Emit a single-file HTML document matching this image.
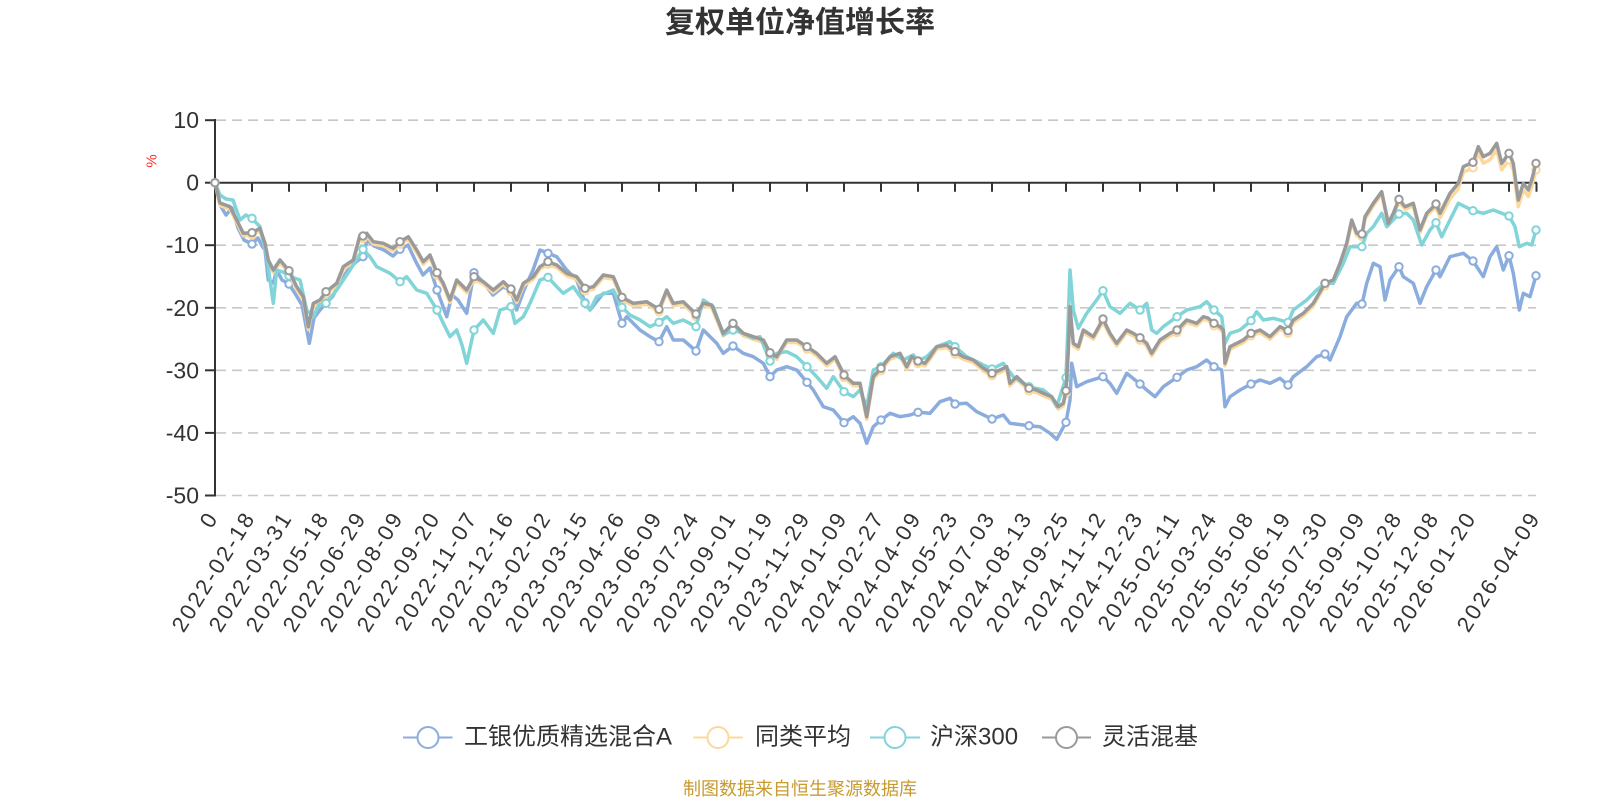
<!DOCTYPE html>
<html>
<head>
<meta charset="utf-8">
<style>
html,body{margin:0;padding:0;background:#fff;}
body{width:1600px;height:800px;overflow:hidden;}
svg{display:block;}
text{font-family:"Liberation Sans","Noto Sans CJK SC",sans-serif;}
</style>
</head>
<body>
<svg width="1600" height="800" viewBox="0 0 1600 800" xmlns="http://www.w3.org/2000/svg">
<rect width="1600" height="800" fill="#fff"/>
<!-- title -->
<text x="800" y="23" text-anchor="middle" dominant-baseline="central" font-size="30" font-weight="bold" fill="#333">复权单位净值增长率</text>

<!-- grid lines -->
<g stroke="#c8c8c8" stroke-width="1.6" stroke-dasharray="10 6" fill="none">
<line x1="216" y1="120.2" x2="1536" y2="120.2"/>
<line x1="216" y1="245.2" x2="1536" y2="245.2"/>
<line x1="216" y1="307.8" x2="1536" y2="307.8"/>
<line x1="216" y1="370.3" x2="1536" y2="370.3"/>
<line x1="216" y1="432.9" x2="1536" y2="432.9"/>
<line x1="216" y1="495.5" x2="1536" y2="495.5"/>
</g>

<!-- y axis -->
<g stroke="#333" stroke-width="2" fill="none">
<line x1="215" y1="119" x2="215" y2="496.5"/>
<line x1="205" y1="120.2" x2="215" y2="120.2"/>
<line x1="205" y1="182.7" x2="215" y2="182.7"/>
<line x1="205" y1="245.2" x2="215" y2="245.2"/>
<line x1="205" y1="307.8" x2="215" y2="307.8"/>
<line x1="205" y1="370.3" x2="215" y2="370.3"/>
<line x1="205" y1="432.9" x2="215" y2="432.9"/>
<line x1="205" y1="495.5" x2="215" y2="495.5"/>
</g>
<g font-size="23" fill="#333" text-anchor="end" dominant-baseline="central">
<text x="199" y="120.2">10</text>
<text x="199" y="182.7">0</text>
<text x="199" y="245.2">-10</text>
<text x="199" y="307.8">-20</text>
<text x="199" y="370.3">-30</text>
<text x="199" y="432.9">-40</text>
<text x="199" y="495.5">-50</text>
</g>
<text transform="translate(152,161) rotate(-90)" text-anchor="middle" dominant-baseline="central" font-size="15" fill="#ff2a2a">%</text>

<!-- x axis -->
<g stroke="#333" stroke-width="2" fill="none">
<line x1="215" y1="182.7" x2="1537" y2="182.7"/>
<path d="M252 182.7v9M289 182.7v9M326 182.7v9M363 182.7v9M400 182.7v9M437 182.7v9M474 182.7v9M511 182.7v9M548 182.7v9M585 182.7v9M622 182.7v9M659 182.7v9M696 182.7v9M733 182.7v9M770 182.7v9M807 182.7v9M844 182.7v9M881 182.7v9M918 182.7v9M955 182.7v9M992 182.7v9M1029 182.7v9M1066 182.7v9M1103 182.7v9M1140 182.7v9M1177 182.7v9M1214 182.7v9M1251 182.7v9M1288 182.7v9M1325 182.7v9M1362 182.7v9M1399 182.7v9M1436 182.7v9M1473 182.7v9M1509 182.7v9M1536.5 182.7v9"/>
</g>

<!-- x labels -->
<g font-size="22" fill="#333" text-anchor="end" dominant-baseline="central" letter-spacing="2.5">
<text transform="translate(213,513) rotate(-58)">0</text>
<text transform="translate(250,513) rotate(-58)">2022-02-18</text>
<text transform="translate(287,513) rotate(-58)">2022-03-31</text>
<text transform="translate(324,513) rotate(-58)">2022-05-18</text>
<text transform="translate(361,513) rotate(-58)">2022-06-29</text>
<text transform="translate(398,513) rotate(-58)">2022-08-09</text>
<text transform="translate(435,513) rotate(-58)">2022-09-20</text>
<text transform="translate(472,513) rotate(-58)">2022-11-07</text>
<text transform="translate(509,513) rotate(-58)">2022-12-16</text>
<text transform="translate(546,513) rotate(-58)">2023-02-02</text>
<text transform="translate(583,513) rotate(-58)">2023-03-15</text>
<text transform="translate(620,513) rotate(-58)">2023-04-26</text>
<text transform="translate(657,513) rotate(-58)">2023-06-09</text>
<text transform="translate(694,513) rotate(-58)">2023-07-24</text>
<text transform="translate(731,513) rotate(-58)">2023-09-01</text>
<text transform="translate(768,513) rotate(-58)">2023-10-19</text>
<text transform="translate(805,513) rotate(-58)">2023-11-29</text>
<text transform="translate(842,513) rotate(-58)">2024-01-09</text>
<text transform="translate(879,513) rotate(-58)">2024-02-27</text>
<text transform="translate(916,513) rotate(-58)">2024-04-09</text>
<text transform="translate(953,513) rotate(-58)">2024-05-23</text>
<text transform="translate(990,513) rotate(-58)">2024-07-03</text>
<text transform="translate(1027,513) rotate(-58)">2024-08-13</text>
<text transform="translate(1064,513) rotate(-58)">2024-09-25</text>
<text transform="translate(1101,513) rotate(-58)">2024-11-12</text>
<text transform="translate(1138,513) rotate(-58)">2024-12-23</text>
<text transform="translate(1175,513) rotate(-58)">2025-02-11</text>
<text transform="translate(1212,513) rotate(-58)">2025-03-24</text>
<text transform="translate(1249,513) rotate(-58)">2025-05-08</text>
<text transform="translate(1286,513) rotate(-58)">2025-06-19</text>
<text transform="translate(1323,513) rotate(-58)">2025-07-30</text>
<text transform="translate(1360,513) rotate(-58)">2025-09-09</text>
<text transform="translate(1397,513) rotate(-58)">2025-10-28</text>
<text transform="translate(1434,513) rotate(-58)">2025-12-08</text>
<text transform="translate(1471,513) rotate(-58)">2026-01-20</text>
<text transform="translate(1535,513) rotate(-58)">2026-04-09</text>
</g>

<!-- BLUE series -->
<polyline fill="none" stroke="#8badde" stroke-width="3.5" stroke-linejoin="round" points="215,182.7 220,205 226,215 232,208 238,228 244,240 252,244 258,238 262,246 265,250 268.3,280 273.3,283 276.7,270 282,280 289,284 296,295 302,305 309.3,343.3 314,318 320,310 326,303.3 333,296 340,282 348,270 356,262 363,256.7 367,240 374,246 384,250 393,256 400,249.3 408,245 416,262 423,275 430,268 437,290 446.7,316.7 452,295 458,300 466.7,313.3 474,272.7 483,282 493,295 503,287 511,290 516.7,310 524,290 533,270 540,250 548,253.3 556.7,256.7 566.7,270 576.7,280 585,302.7 590,310 603.3,293.3 613.3,293.3 622,323.3 626.7,316.7 640,330 650,336.7 659,341.7 666.7,326.7 673.3,340 683.3,340 696,351 703.3,330 716.7,343.3 723.3,353.3 733,346 743.3,353.3 753.3,356.7 763.3,363.3 770,376.7 776.7,370 786.7,366.7 796.7,370 807,382.3 813.3,390 823.3,406.7 833.3,410 844,422.7 853.3,416.7 860,423.3 866.7,443.3 873.3,426.7 881,420 890,413.3 900,416.7 910,415 918,412.3 930,413.3 940,401.7 950,398.3 955,404 966.7,403.3 976.7,411.7 992,419 1003.3,415 1010,423.3 1029,425.7 1040,426.7 1050,433.3 1056.7,439.3 1066,422.3 1070,400 1071.7,363.3 1076.7,386.7 1086.7,381.7 1103,376.7 1110,383.3 1116.7,393.3 1126.7,373.3 1140,384 1146.7,390 1155,396.7 1163.3,386.7 1177,377.3 1186.7,370 1196.7,366.7 1206.7,360 1214,366.7 1221.7,370 1225,406.7 1230,396.7 1240,390 1251,384 1260,380 1270,383.3 1280,378.3 1288,385 1293.3,376.7 1306.7,366.7 1316.7,356.7 1325,354 1330,360 1340,336.7 1346.7,316.7 1356.7,303.3 1362,304 1366.7,283.3 1373.3,263.3 1380,266.7 1385,300 1390,280 1399,266.7 1403.3,276.7 1413.3,283.3 1420,303.3 1426.7,286.7 1436,270 1440,276.7 1450,256.7 1463.3,253.3 1473,261 1483.3,276.7 1490,256.7 1496.7,246.7 1503.3,270 1509,255.7 1513.3,273.3 1519.3,310 1523.3,293.3 1530,296.7 1536,275.7"/>
<g fill="#fff" stroke="#8badde" stroke-width="2">
<circle cx="215" cy="182.7" r="3.7"/><circle cx="252" cy="244" r="3.7"/><circle cx="289" cy="284" r="3.7"/><circle cx="326" cy="303.3" r="3.7"/><circle cx="363" cy="256.7" r="3.7"/><circle cx="400" cy="249.3" r="3.7"/><circle cx="437" cy="290" r="3.7"/><circle cx="474" cy="272.7" r="3.7"/><circle cx="511" cy="290" r="3.7"/><circle cx="548" cy="253.3" r="3.7"/><circle cx="585" cy="302.7" r="3.7"/><circle cx="622" cy="323.3" r="3.7"/><circle cx="659" cy="341.7" r="3.7"/><circle cx="696" cy="351" r="3.7"/><circle cx="733" cy="346" r="3.7"/><circle cx="770" cy="376.7" r="3.7"/><circle cx="807" cy="382.3" r="3.7"/><circle cx="844" cy="422.7" r="3.7"/><circle cx="881" cy="420" r="3.7"/><circle cx="918" cy="412.3" r="3.7"/><circle cx="955" cy="404" r="3.7"/><circle cx="992" cy="419" r="3.7"/><circle cx="1029" cy="425.7" r="3.7"/><circle cx="1066" cy="422.3" r="3.7"/><circle cx="1103" cy="376.7" r="3.7"/><circle cx="1140" cy="384" r="3.7"/><circle cx="1177" cy="377.3" r="3.7"/><circle cx="1214" cy="366.7" r="3.7"/><circle cx="1251" cy="384" r="3.7"/><circle cx="1288" cy="385" r="3.7"/><circle cx="1325" cy="354" r="3.7"/><circle cx="1362" cy="304" r="3.7"/><circle cx="1399" cy="266.7" r="3.7"/><circle cx="1436" cy="270" r="3.7"/><circle cx="1473" cy="261" r="3.7"/><circle cx="1509" cy="255.7" r="3.7"/><circle cx="1536" cy="275.7" r="3.7"/>
</g>

<!-- YELLOW series (同类平均) -->
<g transform="translate(0,2.5)">
<polyline fill="none" stroke="#fdd89a" stroke-width="3.5" stroke-linejoin="round" points="215,180.2 220,203 230,206.7 236.7,220 243.3,233.3 252,232.7 260,228.3 265,243.3 268.3,260 273.3,270 280,260 289,270.7 296.7,286.7 303.3,296.7 308.3,326.7 313.3,303.3 320,300 326,291.7 336.7,283.3 343.3,266.7 353.3,260 360,235 366.7,233.3 373.3,241.7 383.3,243.3 393.3,248.3 400,241.7 408.3,236.7 416.7,250 423.3,261.7 430,255 437,272.7 443.3,283.3 450,300 456.7,280 466.7,290 474,276.7 483.3,281.7 493.3,290 503.3,281.7 511,289 516.7,300 523.3,283.3 533.3,276.7 540,266.7 548,261.7 556.7,265 566.7,273.3 576.7,276.7 585,288.3 593.3,286.7 603.3,275 613.3,276.7 618.3,288.3 622,297.3 633.3,303.3 646.7,301.7 659,309.3 666.7,290 673.3,303.3 683.3,301.7 696,314 703.3,303.3 711.7,305 723.3,333.3 733,323.3 743.3,333.3 753.3,336.7 763.3,340 770,352.7 776.7,356.7 786.7,340 796.7,340 807,346.7 816.7,353.3 826.7,363.3 835,356.7 840,366.7 844,375 853.3,383.3 860,383.3 866.7,416.7 873.3,376.7 881,368.3 890,356.7 900,353.3 906.7,366.7 911.7,356.7 918,361 925,363.3 930,356.7 936.7,346.7 946.7,345 955,351.7 963.3,356.7 973.3,360 983.3,368.3 992,373.3 1000,370 1006.7,366.7 1010,383.3 1016.7,376.7 1029,388.3 1036.7,390 1043.3,393.3 1051.7,396.7 1058.3,406.7 1063.3,403.3 1066,390.7 1068.3,350 1070,306.7 1073.3,343.3 1078.3,346.7 1083.3,330 1093.3,336.7 1103,319 1110,333.3 1116.7,343.3 1126.7,330 1133.3,333.3 1140,337.7 1146.7,343.3 1151.7,353.3 1160,340 1170,333.3 1177,330 1186.7,320 1196.7,323.3 1203.3,316.7 1208,318 1214,323.3 1220,326.7 1223.3,330 1225,363.3 1230,346.7 1236.7,343.3 1243.3,340 1251,333.3 1260,330 1270,336.7 1280,326.7 1288,330.7 1293.3,320 1303.3,313.3 1313.3,303.3 1325,283.3 1333.3,280 1340,263.3 1346.7,243.3 1351.7,220 1356.7,233.3 1362,234 1365,216.7 1373.3,203.3 1381.7,191.7 1388.3,223.3 1393.3,213.3 1399,199.3 1405,206.7 1413.3,203.3 1420,230 1426.7,213.3 1436,204 1440,215.3 1450,196.3 1458.3,186.3 1463.3,169.7 1473,165.3 1478.3,150.7 1483.3,160.7 1490,157.3 1496.7,147.3 1501.7,167.3 1509,157.3 1513.3,167.3 1518.3,204 1523.3,187.3 1528.3,194 1531.7,184 1536,167.3"/>
<g fill="#fff" stroke="#fdd89a" stroke-width="2">
<circle cx="215" cy="180.2" r="3.7"/><circle cx="252" cy="232.7" r="3.7"/><circle cx="289" cy="270.7" r="3.7"/><circle cx="326" cy="291.7" r="3.7"/><circle cx="363" cy="236" r="3.7"/><circle cx="400" cy="241.7" r="3.7"/><circle cx="437" cy="272.7" r="3.7"/><circle cx="474" cy="276.7" r="3.7"/><circle cx="511" cy="289" r="3.7"/><circle cx="548" cy="261.7" r="3.7"/><circle cx="585" cy="288.3" r="3.7"/><circle cx="622" cy="297.3" r="3.7"/><circle cx="659" cy="309.3" r="3.7"/><circle cx="696" cy="314" r="3.7"/><circle cx="733" cy="323.3" r="3.7"/><circle cx="770" cy="352.7" r="3.7"/><circle cx="807" cy="346.7" r="3.7"/><circle cx="844" cy="375" r="3.7"/><circle cx="881" cy="368.3" r="3.7"/><circle cx="918" cy="361" r="3.7"/><circle cx="955" cy="351.7" r="3.7"/><circle cx="992" cy="373.3" r="3.7"/><circle cx="1029" cy="388.3" r="3.7"/><circle cx="1066" cy="390.7" r="3.7"/><circle cx="1103" cy="319" r="3.7"/><circle cx="1140" cy="337.7" r="3.7"/><circle cx="1177" cy="330" r="3.7"/><circle cx="1214" cy="323.3" r="3.7"/><circle cx="1251" cy="333.3" r="3.7"/><circle cx="1288" cy="330.7" r="3.7"/><circle cx="1325" cy="283.3" r="3.7"/><circle cx="1362" cy="234" r="3.7"/><circle cx="1399" cy="199.3" r="3.7"/><circle cx="1436" cy="204" r="3.7"/><circle cx="1473" cy="165.3" r="3.7"/><circle cx="1509" cy="157.3" r="3.7"/><circle cx="1536" cy="167.3" r="3.7"/>
</g>
</g>

<!-- CYAN series (沪深300) -->
<polyline fill="none" stroke="#81d4d7" stroke-width="3.5" stroke-linejoin="round" points="215,182.7 220,195 226,199 233,200 240,220 246,215 252,218.3 260,226.7 266.7,256.7 273.3,303.3 276.7,270 283,272 289,276 300,280 306.7,310 313.3,316.7 319,305 326,303.3 336.7,290 350,270 363,249.3 370,256.7 376.7,266.7 390,273.3 400,281.7 406.7,276.7 416.7,290 426.7,293.3 437,310 443.3,323.3 450,336.7 456.7,330 462,345 466.7,363.3 474,330 483.3,320 493.3,333.3 500,310 511,306.7 515,323.3 523.3,316.7 530,303.3 540,280 548,277.3 556.7,286.7 563.3,293.3 573.3,286.7 585,303.3 590,310 596.7,296.7 613.3,290 622,307.3 630,315 640,320 650,326.7 659,322.3 666.7,316.7 673.3,323.3 683.3,320 696,326.7 703.3,300 713.3,306.7 723.3,335 733,330 743.3,333.3 753.3,338.3 760,336.7 770,361 776.7,353.3 786.7,351.7 796.7,356.7 807,366.7 816.7,376.7 826.7,388.3 833.3,376.7 844,391.7 853.3,396.7 860,390 866.7,406.7 873.3,370 881,366.7 893.3,353.3 903.3,360 913.3,355 918,361 926.7,356.7 936.7,346.7 950,341.7 955,346.7 966.7,356.7 983.3,365 992,369 1003.3,363.3 1013.3,376.7 1029,386.7 1043.3,390 1051.7,396.7 1056.7,406.7 1066,377.7 1070,270 1073.3,310 1078.3,328.3 1086.7,313.3 1096.7,300 1103,290.7 1110,306.7 1120,313.3 1130,303.3 1140,310 1146.7,303.3 1151.7,330 1156.7,333.3 1163.3,326.7 1177,316.7 1186.7,310 1200,306.7 1206.7,301.7 1214,310 1221.7,316.7 1225,343.3 1230,333.3 1240,330 1251,320.7 1256.7,311.7 1263.3,320 1273.3,318.3 1288,322.3 1293.3,310 1306.7,300 1316.7,290 1325,283.3 1333.3,283.3 1343.3,263.3 1350,246.7 1362,246.7 1366.7,233.3 1373.3,226.7 1381.7,213.3 1386.7,226.7 1399,214 1406.7,213.3 1413.3,220 1421.7,245 1430,230 1436,222.7 1441.7,236.7 1450,220 1458.3,203.3 1473,210.7 1483.3,213.3 1493.3,210 1509,216 1515,226.7 1519.3,246.7 1526.7,243.3 1531.7,245 1536,230"/>
<g fill="#fff" stroke="#81d4d7" stroke-width="2">
<circle cx="215" cy="182.7" r="3.7"/><circle cx="252" cy="218.3" r="3.7"/><circle cx="289" cy="276" r="3.7"/><circle cx="326" cy="303.3" r="3.7"/><circle cx="363" cy="249.3" r="3.7"/><circle cx="400" cy="281.7" r="3.7"/><circle cx="437" cy="310" r="3.7"/><circle cx="474" cy="330" r="3.7"/><circle cx="511" cy="306.7" r="3.7"/><circle cx="548" cy="277.3" r="3.7"/><circle cx="585" cy="303.3" r="3.7"/><circle cx="622" cy="307.3" r="3.7"/><circle cx="659" cy="322.3" r="3.7"/><circle cx="696" cy="326.7" r="3.7"/><circle cx="733" cy="330" r="3.7"/><circle cx="770" cy="361" r="3.7"/><circle cx="807" cy="366.7" r="3.7"/><circle cx="844" cy="391.7" r="3.7"/><circle cx="881" cy="366.7" r="3.7"/><circle cx="918" cy="361" r="3.7"/><circle cx="955" cy="346.7" r="3.7"/><circle cx="992" cy="369" r="3.7"/><circle cx="1029" cy="386.7" r="3.7"/><circle cx="1066" cy="377.7" r="3.7"/><circle cx="1103" cy="290.7" r="3.7"/><circle cx="1140" cy="310" r="3.7"/><circle cx="1177" cy="316.7" r="3.7"/><circle cx="1214" cy="310" r="3.7"/><circle cx="1251" cy="320.7" r="3.7"/><circle cx="1288" cy="322.3" r="3.7"/><circle cx="1325" cy="283.3" r="3.7"/><circle cx="1362" cy="246.7" r="3.7"/><circle cx="1399" cy="214" r="3.7"/><circle cx="1436" cy="222.7" r="3.7"/><circle cx="1473" cy="210.7" r="3.7"/><circle cx="1509" cy="216" r="3.7"/><circle cx="1536" cy="230" r="3.7"/>
</g>

<!-- GRAY series (灵活混基) -->
<polyline fill="none" stroke="#9a9a9a" stroke-width="3.5" stroke-linejoin="round" points="215,182.7 220,203 230,206.7 236.7,220 243.3,233.3 252,232.7 260,228.3 265,243.3 268.3,260 273.3,270 280,260 289,270.7 296.7,286.7 303.3,296.7 308.3,326.7 313.3,303.3 320,300 326,291.7 336.7,283.3 343.3,266.7 353.3,260 360,235 366.7,233.3 373.3,241.7 383.3,243.3 393.3,248.3 400,241.7 408.3,236.7 416.7,250 423.3,261.7 430,255 437,272.7 443.3,283.3 450,300 456.7,280 466.7,290 474,276.7 483.3,281.7 493.3,290 503.3,281.7 511,289 516.7,300 523.3,283.3 533.3,276.7 540,266.7 548,261.7 556.7,265 566.7,273.3 576.7,276.7 585,288.3 593.3,286.7 603.3,275 613.3,276.7 618.3,288.3 622,297.3 633.3,303.3 646.7,301.7 659,309.3 666.7,290 673.3,303.3 683.3,301.7 696,314 703.3,303.3 711.7,305 723.3,333.3 733,323.3 743.3,333.3 753.3,336.7 763.3,340 770,352.7 776.7,356.7 786.7,340 796.7,340 807,346.7 816.7,353.3 826.7,363.3 835,356.7 840,366.7 844,375 853.3,383.3 860,383.3 866.7,416.7 873.3,376.7 881,368.3 890,356.7 900,353.3 906.7,366.7 911.7,356.7 918,361 925,363.3 930,356.7 936.7,346.7 946.7,345 955,351.7 963.3,356.7 973.3,360 983.3,368.3 992,373.3 1000,370 1006.7,366.7 1010,383.3 1016.7,376.7 1029,388.3 1036.7,390 1043.3,393.3 1051.7,396.7 1058.3,406.7 1063.3,403.3 1066,390.7 1068.3,350 1070,306.7 1073.3,343.3 1078.3,346.7 1083.3,330 1093.3,336.7 1103,319 1110,333.3 1116.7,343.3 1126.7,330 1133.3,333.3 1140,337.7 1146.7,343.3 1151.7,353.3 1160,340 1170,333.3 1177,330 1186.7,320 1196.7,323.3 1203.3,316.7 1208,318 1214,323.3 1220,326.7 1223.3,330 1225,363.3 1230,346.7 1236.7,343.3 1243.3,340 1251,333.3 1260,330 1270,336.7 1280,326.7 1288,330.7 1293.3,320 1303.3,313.3 1313.3,303.3 1325,283.3 1333.3,280 1340,263.3 1346.7,243.3 1351.7,220 1356.7,233.3 1362,234 1365,216.7 1373.3,203.3 1381.7,191.7 1388.3,223.3 1393.3,213.3 1399,199.3 1405,206.7 1413.3,203.3 1420,230 1426.7,213.3 1436,204 1440,213.3 1450,193.3 1458.3,183.3 1463.3,166.7 1473,162.3 1478.3,146.7 1483.3,156.7 1490,153.3 1496.7,143.3 1501.7,163.3 1509,153.3 1513.3,163.3 1518.3,200 1523.3,183.3 1528.3,190 1531.7,180 1536,163.3"/>
<g fill="#fff" stroke="#9a9a9a" stroke-width="2">
<circle cx="215" cy="182.7" r="3.7"/><circle cx="252" cy="232.7" r="3.7"/><circle cx="289" cy="270.7" r="3.7"/><circle cx="326" cy="291.7" r="3.7"/><circle cx="363" cy="236" r="3.7"/><circle cx="400" cy="241.7" r="3.7"/><circle cx="437" cy="272.7" r="3.7"/><circle cx="474" cy="276.7" r="3.7"/><circle cx="511" cy="289" r="3.7"/><circle cx="548" cy="261.7" r="3.7"/><circle cx="585" cy="288.3" r="3.7"/><circle cx="622" cy="297.3" r="3.7"/><circle cx="659" cy="309.3" r="3.7"/><circle cx="696" cy="314" r="3.7"/><circle cx="733" cy="323.3" r="3.7"/><circle cx="770" cy="352.7" r="3.7"/><circle cx="807" cy="346.7" r="3.7"/><circle cx="844" cy="375" r="3.7"/><circle cx="881" cy="368.3" r="3.7"/><circle cx="918" cy="361" r="3.7"/><circle cx="955" cy="351.7" r="3.7"/><circle cx="992" cy="373.3" r="3.7"/><circle cx="1029" cy="388.3" r="3.7"/><circle cx="1066" cy="390.7" r="3.7"/><circle cx="1103" cy="319" r="3.7"/><circle cx="1140" cy="337.7" r="3.7"/><circle cx="1177" cy="330" r="3.7"/><circle cx="1214" cy="323.3" r="3.7"/><circle cx="1251" cy="333.3" r="3.7"/><circle cx="1288" cy="330.7" r="3.7"/><circle cx="1325" cy="283.3" r="3.7"/><circle cx="1362" cy="234" r="3.7"/><circle cx="1399" cy="199.3" r="3.7"/><circle cx="1436" cy="204" r="3.7"/><circle cx="1473" cy="162.3" r="3.7"/><circle cx="1509" cy="153.3" r="3.7"/><circle cx="1536" cy="163.3" r="3.7"/>
</g>

<!-- legend -->
<g stroke-width="2">
<line x1="403" y1="737.5" x2="452.5" y2="737.5" stroke="#8badde"/>
<circle cx="428" cy="737.5" r="10.5" fill="#fff" stroke="#8badde"/>
<line x1="693.3" y1="737.5" x2="742.7" y2="737.5" stroke="#fdd89a"/>
<circle cx="718" cy="737.5" r="10.5" fill="#fff" stroke="#fdd89a"/>
<line x1="870" y1="737.5" x2="920" y2="737.5" stroke="#81d4d7"/>
<circle cx="895" cy="737.5" r="10.5" fill="#fff" stroke="#81d4d7"/>
<line x1="1042" y1="737.5" x2="1091" y2="737.5" stroke="#9a9a9a"/>
<circle cx="1066.5" cy="737.5" r="10.5" fill="#fff" stroke="#9a9a9a"/>
</g>
<g font-size="24" fill="#333" dominant-baseline="central">
<text x="464" y="737">工银优质精选混合A</text>
<text x="755" y="737">同类平均</text>
<text x="930" y="737">沪深300</text>
<text x="1102" y="737">灵活混基</text>
</g>

<!-- source -->
<text x="800" y="789" text-anchor="middle" dominant-baseline="central" font-size="18" fill="#c99a2e">制图数据来自恒生聚源数据库</text>
</svg>
</body>
</html>
